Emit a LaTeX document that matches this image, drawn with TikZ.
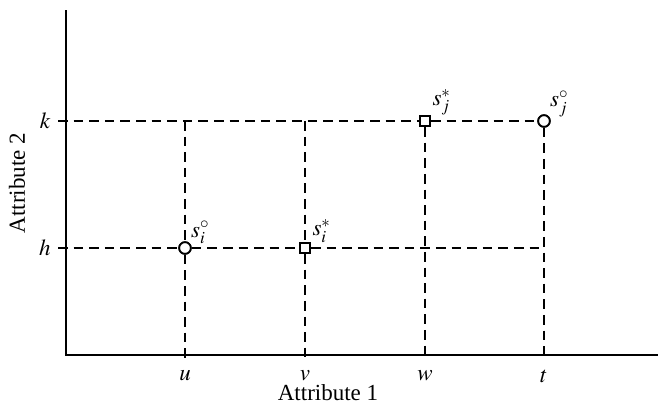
\documentclass[tikz,border=0pt]{standalone}
\usepackage{mathptmx}
\usepackage[no-math]{fontspec}
\setmainfont{Liberation Serif}
\usetikzlibrary{positioning, calc}

\begin{document}
\begin{tikzpicture}[
		x=0.5pt, y=-0.5pt,
		% Estilos
		axis/.style={draw, line width=1pt},
		guide/.style={draw, line width=1pt, dash pattern=on 4.8pt off 3pt},
		circmark/.style={draw, circle, line width=0.9pt, fill=white, minimum size=5.8pt, inner sep=0pt},
		sqmark/.style={draw, rectangle, line width=0.9pt, fill=white, minimum size=5.2pt, inner sep=0pt},
		lbl/.style={inner sep=0.5pt, font=\fontsize{11.5}{13}\selectfont}
		]
		\useasboundingbox (0,0) rectangle (660,404);
		
		% --- EJES ---
		\coordinate (O) at (66,355);
		\coordinate (ytop) at (66,10);
		\coordinate (xend) at (658,355);
		\draw [axis] (ytop) -- (O) -- (xend);
		
		% --- PUNTOS ---
		\coordinate (kL) at (58,121);
		\coordinate (hL) at (58,248);
		\node [circmark] (sio) at (185,248) {};
		\node [sqmark] (sis) at (305,248) {};
		\node [sqmark] (sjs) at (425,121) {};
		\node [circmark] (sjo) at (544,121) {};
		\coordinate (hR) at (540,248);
		
		% --- LÍNEAS DISCONTINUAS ---
		\draw [guide] (kL) -- (sjs) -- (sjo);
		\draw [guide] (hL) -- (sio) -- (sis) -- (hR);
		\draw [guide] (185,121) -- (sio) -- (185,361);
		\draw [guide] (305,121) -- (sis) -- (305,361);
		\draw [guide] (sjs) -- (425,361);
		\draw [guide] (sjo) -- (544,361);
		\node [circmark] at (sio) {};
		\node [sqmark] at (sis) {};
		\node [sqmark] at (sjs) {};
		\node [circmark] at (sjo) {};
		
		% --- ETIQUETAS ---
		\node [lbl, above right=-1pt and 0pt of sio] {$s_i^\circ$};
		\node [lbl, above right=-1pt and 0pt of sis] {$s_i^*$};
		\node [lbl, above right=-1pt and 0pt of sjs] {$s_j^*$};
		\node [lbl, above right=-1pt and 0pt of sjo] {$s_j^\circ$};
		\node [lbl, left=3pt of kL] (k) {$k$};
		\node [lbl, left=3pt of hL] (h) {$h$};
		\node [lbl] (u) at (185,376) {$u$};
		\node [lbl] (v) at (305,376) {$v$};
		\node [lbl] (w) at (425,376) {$w$};
		\node [lbl] (t) at (544,376) {$t$};
		\node [lbl] (xlab) at (328,393) {Attribute 1};
		\node [lbl, rotate=90] (ylab) at (17,183) {Attribute 2};
		
	\end{tikzpicture}
\end{document}
